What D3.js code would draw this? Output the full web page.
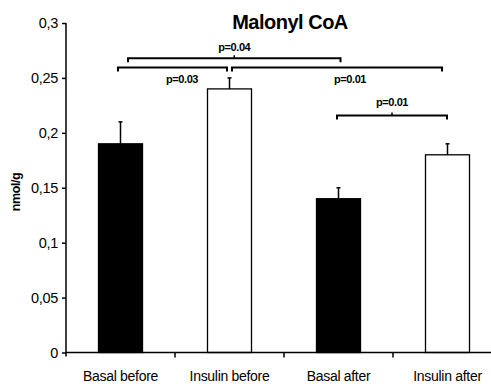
<!DOCTYPE html>
<html>
<head>
<meta charset="utf-8">
<script src="https://cdn.jsdelivr.net/npm/d3@7"></script>
<style>
  body { margin: 0; background: #fff; }
  svg { display: block; font-family: "Liberation Sans", Arial, sans-serif; }
</style>
</head>
<body>
<div id="app"></div>
<script>
// Chart data
const categories = ['Basal before', 'Insulin before', 'Basal after', 'Insulin after'];
const values = [0.19, 0.24, 0.14, 0.18];
const errors = [0.02, 0.01, 0.01, 0.01];
const fills = ['#000', '#fff', '#000', '#fff'];
const yTicks = [0, 0.05, 0.1, 0.15, 0.2, 0.25, 0.3];

// significance brackets: from/to category, level in nmol/g, label
const bracketFrom = ['Basal before', 'Basal before', 'Insulin before', 'Basal after'];
const bracketTo = ['Basal after', 'Insulin before', 'Insulin after', 'Insulin after'];
const bracketLevel = [0.268, 0.2595, 0.2595, 0.2158];
const bracketLabel = ['p=0.04', 'p=0.03', 'p=0.01', 'p=0.01'];
const bracketLabelSide = ['above', 'below', 'below', 'above'];

const W = 491, H = 387;
const margin = {top: 23, left: 66};
const plotH = 329.5;

const svg = d3.select('#app').append('svg')
  .attr('width', W).attr('height', H);

const x = d3.scaleBand()
  .domain(categories)
  .range([margin.left, margin.left + 4 * 109])
  .paddingInner(0.6).paddingOuter(0.3);

const y = d3.scaleLinear()
  .domain([0, 0.3])
  .range([margin.top + plotH, margin.top]);

const cx = c => x(c) + x.bandwidth() / 2;
const y0 = y(0);

// bars
svg.selectAll('rect.bar')
  .data(categories)
  .join('rect')
  .attr('class', 'bar')
  .attr('x', d => cx(d) - 22)
  .attr('width', 44)
  .attr('y', (d, i) => y(values[i]))
  .attr('height', (d, i) => y0 - y(values[i]))
  .attr('fill', (d, i) => fills[i])
  .attr('stroke', '#000')
  .attr('stroke-width', 1.3);

// error bars (upper only)
const eb = svg.append('g').attr('stroke', '#000').attr('stroke-width', 1.5);
categories.forEach((c, i) => {
  eb.append('line')
    .attr('x1', cx(c)).attr('x2', cx(c))
    .attr('y1', y(values[i])).attr('y2', y(values[i] + errors[i]));
  eb.append('line')
    .attr('x1', cx(c) - 2).attr('x2', cx(c) + 2)
    .attr('y1', y(values[i] + errors[i])).attr('y2', y(values[i] + errors[i]));
});

// y axis
const yAxis = svg.append('g')
  .attr('transform', `translate(${margin.left},0)`)
  .call(d3.axisLeft(y).tickValues(yTicks).tickSize(4).tickPadding(4)
    .tickFormat(d => d3.format('')(d).replace('.', ',')));
yAxis.select('.domain').attr('d', `M0,${margin.top}V${y0 + 4}`).attr('stroke-width', 1.5);
yAxis.selectAll('.tick line').attr('stroke-width', 1.5);
yAxis.selectAll('text').attr('font-size', 14.5).attr('font-family', null).attr('fill', '#000')
  .attr('letter-spacing', -0.3);

// x axis
const xAxis = svg.append('g')
  .attr('transform', `translate(0,${y0})`)
  .call(d3.axisBottom(x).tickSize(0).tickPadding(19));
xAxis.select('.domain').attr('d', `M${margin.left},0H${W}`).attr('stroke-width', 1.5);
xAxis.selectAll('text').attr('font-size', 14).attr('font-family', null).attr('fill', '#000')
  .attr('letter-spacing', -0.3);
// category separator ticks
xAxis.selectAll('line.sep')
  .data(categories.slice(1))
  .join('line')
  .attr('class', 'sep')
  .attr('x1', d => x(d) - x.step() * x.paddingInner() / 2)
  .attr('x2', d => x(d) - x.step() * x.paddingInner() / 2)
  .attr('y1', 0).attr('y2', 5)
  .attr('stroke', '#000').attr('stroke-width', 1.5);

// title
svg.append('text')
  .attr('x', 290).attr('y', 28.5)
  .attr('text-anchor', 'middle')
  .attr('font-size', 20).attr('font-weight', 'bold')
  .attr('letter-spacing', -0.5)
  .text('Malonyl CoA');

// y label
svg.append('text')
  .attr('transform', 'translate(20,192) rotate(-90)')
  .attr('text-anchor', 'middle')
  .attr('font-size', 12.5).attr('font-weight', 'bold')
  .attr('letter-spacing', -0.4)
  .text('nmol/g');

// brackets
const bracketInset = [[7.5, -2], [-2.5, 2.5], [2.5, 5.5], [-1.5, 0.5]];
const labelShift = [0, 9.5, 13, 0];
const bg = svg.append('g');
bracketLabel.forEach((lab, i) => {
  const x1 = cx(bracketFrom[i]) + bracketInset[i][0];
  const x2 = cx(bracketTo[i]) - bracketInset[i][1];
  const yy = y(bracketLevel[i]);
  const mid = (x1 + x2) / 2;
  bg.append('path')
    .attr('d', `M${x1},${yy + 4}V${yy}H${x2}V${yy + 4}`)
    .attr('fill', 'none').attr('stroke', '#000').attr('stroke-width', 2);
  const above = bracketLabelSide[i] === 'above';
  if (above) {
    bg.append('line')
      .attr('x1', mid).attr('x2', mid).attr('y1', yy).attr('y2', yy - 3)
      .attr('stroke', '#000').attr('stroke-width', 1.5);
  }
  bg.append('text')
    .attr('x', mid + labelShift[i])
    .attr('y', above ? yy - (i === 0 ? 7 : 9.5) : yy + 15.5)
    .attr('text-anchor', 'middle')
    .attr('font-size', 11).attr('font-weight', 'bold')
    .attr('letter-spacing', -0.4)
    .text(lab);
});
</script>
</body>
</html>
